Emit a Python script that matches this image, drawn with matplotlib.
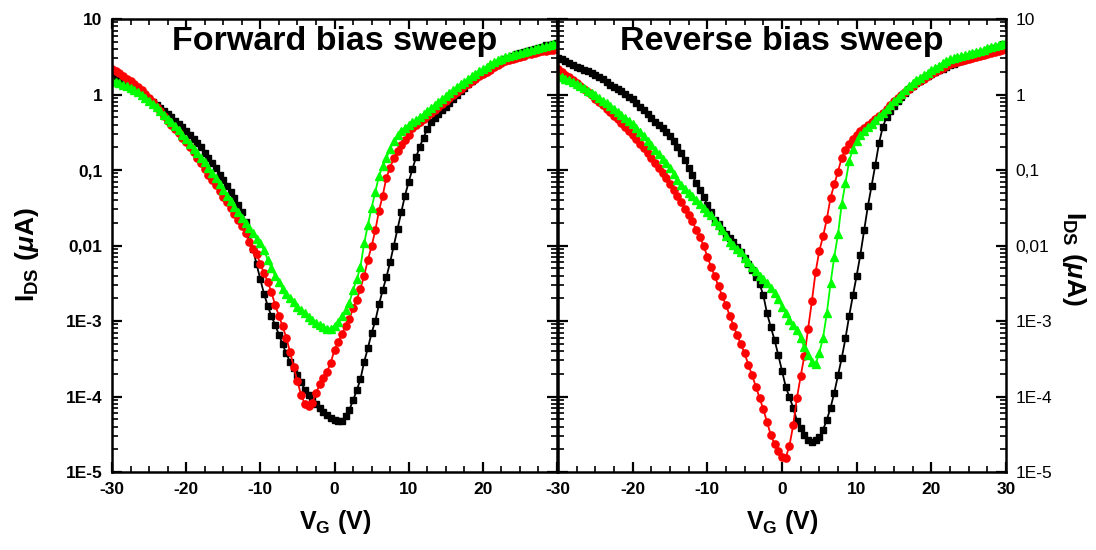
import numpy as np
import matplotlib
matplotlib.use('Agg')
import matplotlib.pyplot as plt
from matplotlib import font_manager
from matplotlib.ticker import FixedLocator, FixedFormatter, MultipleLocator, LogLocator, NullFormatter

# gate voltage sweep, -30 V .. 30 V in 0.5 V steps
vg = np.linspace(-30, 30, 121)

# log10(I_DS / uA), one value per 0.5 V
fwd_black = [
    0.27, 0.245, 0.22, 0.19, 0.16, 0.125, 0.09, 0.05, 0.015, -0.02,
    -0.055, -0.095, -0.135, -0.175, -0.22, -0.26, -0.30, -0.345, -0.39, -0.435,
    -0.48, -0.53, -0.585, -0.64, -0.70, -0.77, -0.84, -0.91, -0.98, -1.06,
    -1.13, -1.21, -1.285, -1.37, -1.46, -1.56, -1.69, -1.85, -2.05, -2.25,
    -2.45, -2.64, -2.80, -2.94, -3.05, -3.18, -3.31, -3.43, -3.54, -3.62,
    -3.71, -3.81, -3.91, -3.98, -4.04, -4.10, -4.15, -4.20, -4.24, -4.28,
    -4.31,
    -4.33, -4.32, -4.26, -4.18, -4.05, -3.92, -3.77, -3.54, -3.36,
    -3.16, -3.00, -2.78, -2.59, -2.42, -2.22, -2.00, -1.78, -1.56, -1.34,
    -1.16, -0.99, -0.83, -0.69, -0.57, -0.46, -0.37, -0.31, -0.26, -0.21,
    -0.16, -0.11, -0.06, -0.01, 0.04, 0.09, 0.135, 0.175, 0.215, 0.255,
    0.29, 0.325, 0.36, 0.39, 0.42, 0.445, 0.47, 0.49, 0.51, 0.53,
    0.545, 0.56, 0.575, 0.59, 0.605, 0.62, 0.635, 0.65, 0.66, 0.67,
    0.68]
fwd_red = [
    0.34, 0.31, 0.28, 0.245, 0.21, 0.175, 0.14, 0.10, 0.055, 0.01,
    -0.04, -0.10, -0.16, -0.22, -0.29, -0.345, -0.40, -0.455, -0.51, -0.57,
    -0.635, -0.70, -0.765, -0.835, -0.91, -0.99, -1.06, -1.13, -1.205, -1.28,
    -1.355, -1.43, -1.505, -1.58, -1.66, -1.74, -1.84, -1.95, -2.04, -2.11,
    -2.24, -2.37, -2.48, -2.62, -2.79, -2.93, -3.07, -3.22, -3.41, -3.61,
    -3.80, -3.98, -4.10, -4.13, -4.08, -3.96, -3.84, -3.75, -3.67, -3.55,
    -3.38,
    -3.28, -3.17, -3.07, -2.98, -2.83, -2.72, -2.57, -2.40, -2.19,
    -2.01, -1.80, -1.54, -1.34, -1.10, -0.97, -0.84, -0.75, -0.67, -0.60,
    -0.53, -0.45, -0.40, -0.36, -0.32, -0.28, -0.25, -0.21, -0.17, -0.13,
    -0.09, -0.05, -0.01, 0.03, 0.07, 0.11, 0.145, 0.18, 0.21, 0.24,
    0.27, 0.30, 0.33, 0.36, 0.39, 0.415, 0.44, 0.46, 0.475, 0.49,
    0.50, 0.515, 0.53, 0.54, 0.55, 0.56, 0.57, 0.58, 0.585, 0.59,
    0.60]
fwd_green = [
    0.18, 0.165, 0.15, 0.13, 0.11, 0.085, 0.06, 0.03, -0.005, -0.04,
    -0.08, -0.12, -0.17, -0.22, -0.27, -0.32, -0.37, -0.42, -0.47, -0.53,
    -0.59, -0.655, -0.72, -0.78, -0.84, -0.90, -0.97, -1.04, -1.11, -1.19,
    -1.26, -1.34, -1.415, -1.49, -1.56, -1.63, -1.70, -1.77, -1.84, -1.91,
    -1.97, -2.06, -2.19, -2.30, -2.40, -2.49, -2.57, -2.64, -2.70, -2.75,
    -2.81, -2.86, -2.90, -2.95, -2.99, -3.02, -3.05, -3.08, -3.10, -3.10,
    -3.06,
    -3.01, -2.94, -2.86, -2.76, -2.59, -2.45, -2.28, -1.97, -1.73,
    -1.50, -1.29, -1.08, -0.95, -0.84, -0.72, -0.62, -0.54, -0.48, -0.44,
    -0.40, -0.37, -0.34, -0.30, -0.26, -0.22, -0.18, -0.14, -0.10, -0.06,
    -0.02, 0.02, 0.06, 0.10, 0.135, 0.17, 0.205, 0.24, 0.275, 0.31,
    0.34, 0.37, 0.40, 0.43, 0.455, 0.475, 0.495, 0.51, 0.525, 0.54,
    0.55, 0.565, 0.575, 0.59, 0.60, 0.61, 0.625, 0.64, 0.655, 0.665,
    0.68]

rev_black = [
    0.49, 0.465, 0.44, 0.415, 0.39, 0.365, 0.345, 0.325, 0.305, 0.285,
    0.26, 0.23, 0.20, 0.165, 0.13, 0.10, 0.07, 0.04, 0.01, -0.03,
    -0.065, -0.11, -0.16, -0.21, -0.26, -0.31, -0.36, -0.405, -0.45, -0.50,
    -0.555, -0.62, -0.69, -0.77, -0.87, -0.97, -1.07, -1.17, -1.26, -1.36,
    -1.46, -1.56, -1.66, -1.72, -1.79, -1.85, -1.90, -1.95, -2.02, -2.09,
    -2.17, -2.24, -2.32, -2.42, -2.51, -2.66, -2.90, -3.08, -3.25, -3.45,
    -3.66,
    -3.87, -4.01, -4.15, -4.32, -4.42, -4.51, -4.57, -4.60, -4.58,
    -4.54, -4.44, -4.31, -4.15, -3.95, -3.72, -3.49, -3.23, -2.93, -2.66,
    -2.40, -2.12, -1.80, -1.48, -1.21, -0.93, -0.64, -0.43, -0.30, -0.22,
    -0.15, -0.09, -0.03, 0.02, 0.07, 0.11, 0.15, 0.185, 0.215, 0.245,
    0.27, 0.295, 0.32, 0.34, 0.36, 0.385, 0.41, 0.43, 0.45, 0.47,
    0.49, 0.51, 0.53, 0.55, 0.565, 0.58, 0.60, 0.615, 0.635, 0.65,
    0.67]
rev_red = [
    0.34, 0.30, 0.26, 0.23, 0.19, 0.15, 0.11, 0.07, 0.03, -0.01,
    -0.055, -0.10, -0.145, -0.19, -0.235, -0.28, -0.33, -0.38, -0.43, -0.48,
    -0.53, -0.59, -0.65, -0.71, -0.775, -0.84, -0.905, -0.97, -1.04, -1.11,
    -1.18, -1.26, -1.34, -1.43, -1.51, -1.59, -1.68, -1.79, -1.89, -2.00,
    -2.15, -2.28, -2.41, -2.54, -2.67, -2.79, -2.93, -3.06, -3.19, -3.31,
    -3.43, -3.58, -3.72, -3.87, -4.02, -4.17, -4.34, -4.51, -4.63, -4.72,
    -4.80,
    -4.81, -4.65, -4.38, -4.02, -3.73, -3.46, -3.10, -2.74, -2.35,
    -2.07, -1.88, -1.65, -1.37, -1.19, -1.02, -0.84, -0.73, -0.66, -0.59,
    -0.54, -0.49, -0.45, -0.41, -0.37, -0.33, -0.29, -0.24, -0.19, -0.14,
    -0.09, -0.045, -0.005, 0.035, 0.075, 0.115, 0.15, 0.18, 0.21, 0.24,
    0.27, 0.30, 0.33, 0.355, 0.38, 0.40, 0.415, 0.43, 0.445, 0.46,
    0.475, 0.49, 0.50, 0.51, 0.52, 0.53, 0.545, 0.56, 0.575, 0.59,
    0.60]
rev_green = [
    0.25, 0.23, 0.21, 0.19, 0.17, 0.14, 0.11, 0.08, 0.05, 0.02,
    -0.005, -0.04, -0.08, -0.115, -0.15, -0.19, -0.23, -0.27, -0.31, -0.35,
    -0.39, -0.44, -0.50, -0.555, -0.61, -0.67, -0.73, -0.79, -0.85, -0.91,
    -0.98, -1.05, -1.13, -1.20, -1.25, -1.30, -1.35, -1.40, -1.45, -1.50,
    -1.55, -1.60, -1.67, -1.73, -1.79, -1.87, -1.95, -1.99, -2.04, -2.09,
    -2.16, -2.22, -2.28, -2.34, -2.40, -2.45, -2.50, -2.56, -2.63, -2.71,
    -2.81,
    -2.90, -2.99, -3.05, -3.12, -3.23, -3.35, -3.45, -3.54, -3.57,
    -3.42, -3.22, -2.90, -2.50, -2.15, -1.85, -1.45, -1.17, -0.88, -0.72,
    -0.62, -0.54, -0.48, -0.43, -0.39, -0.34, -0.29, -0.24, -0.19, -0.14,
    -0.09, -0.04, 0.01, 0.06, 0.11, 0.155, 0.19, 0.225, 0.26, 0.29,
    0.32, 0.35, 0.38, 0.42, 0.445, 0.465, 0.48, 0.495, 0.51, 0.525,
    0.54, 0.55, 0.565, 0.58, 0.595, 0.61, 0.625, 0.64, 0.655, 0.67,
    0.69]

titles = ['Forward bias sweep', 'Reverse bias sweep']
ytick_vals = [1e-5, 1e-4, 1e-3, 1e-2, 1e-1, 1, 10]
ytick_text = ['1E-5', '1E-4', '1E-3', '0,01', '0,1', '1', '10']
xtick_vals = [-30, -20, -10, 0, 10, 20, 30]


def pick_font(names):
    have = set(f.name for f in font_manager.fontManager.ttflist)
    for n in names:
        if n in have:
            return n
    return 'DejaVu Sans'

FONT = pick_font(['Liberation Sans Narrow', 'Liberation Sans', 'Arial'])
FONT2 = pick_font(['Liberation Sans', 'Arial'])
plt.rcParams['font.family'] = [FONT, 'DejaVu Sans']
plt.rcParams['mathtext.fontset'] = 'custom'
plt.rcParams['mathtext.rm'] = FONT2
plt.rcParams['mathtext.bf'] = FONT2 + ':bold'
plt.rcParams['mathtext.it'] = FONT2 + ':italic:bold'

fig = plt.figure(figsize=(10.96, 5.5), dpi=100)
ax1 = fig.add_axes([112/1096, 1-472/550, 445/1096, 453/550])
ax2 = fig.add_axes([558/1096, 1-472/550, 448/1096, 453/550])

curves = [(fwd_black, fwd_red, fwd_green), (rev_black, rev_red, rev_green)]
for ax, (cb, cr, cg), title in zip([ax1, ax2], curves, titles):
    ax.plot(vg, 10**np.array(cb), color='black', marker='s', ms=4.4, lw=1.3)
    ax.plot(vg, 10**np.array(cr), color='#ff0000', marker='o', ms=5.2, lw=1.3)
    ax.plot(vg, 10**np.array(cg), color='#00ff00', marker='^', ms=5.4, lw=1.3)
    ax.set_yscale('log')
    ax.set_xlim(-30, 30)
    ax.set_ylim(1e-5, 10)
    ax.yaxis.set_major_locator(FixedLocator(ytick_vals))
    ax.yaxis.set_minor_locator(LogLocator(base=10, subs=np.arange(2, 10)))
    ax.yaxis.set_minor_formatter(NullFormatter())
    ax.xaxis.set_major_locator(FixedLocator(xtick_vals))
    ax.xaxis.set_minor_locator(MultipleLocator(2.5))
    ax.tick_params(which='both', direction='in', top=True, right=True, left=True, bottom=True)
    ax.tick_params(which='major', length=7, width=1.6)
    ax.tick_params(which='minor', length=4, width=1.2)
    ax.tick_params(axis='x', which='major', pad=7)
    ax.tick_params(axis='y', which='major', pad=7)
    for s in ax.spines.values():
        s.set_linewidth(1.8)
    ax.text(0.5, 0.95, title, transform=ax.transAxes, ha='center', va='center',
            fontsize=24.5, fontweight='bold', family=[FONT, 'DejaVu Sans'])

ax1.xaxis.set_major_formatter(FixedFormatter(['-30', '-20', '-10', '0', '10', '20', '']))
ax2.xaxis.set_major_formatter(FixedFormatter(['-30', '-20', '-10', '0', '10', '20', '30']))
ax1.yaxis.set_major_formatter(FixedFormatter(ytick_text))
ax2.yaxis.set_major_formatter(FixedFormatter(ytick_text))
ax2.tick_params(axis='y', which='both', labelleft=False, labelright=True)

for ax in [ax1, ax2]:
    for lab in ax.get_xticklabels():
        lab.set_fontsize(12.5)
        lab.set_fontweight('bold')
for lab in ax1.get_yticklabels():
    lab.set_fontsize(12.5)
    lab.set_fontweight('bold')
for lab in ax2.get_yticklabels():
    lab.set_fontsize(12.5)
    lab.set_fontweight('normal')

ylab = r'$\mathbf{I_{DS}\ (}\mathit{\mu}\mathbf{A)}$'
fig.text(27/1096, 1-255/550, ylab, rotation=90, ha='center', va='center', fontsize=19)
fig.text(1074/1096, 1-258/550, ylab, rotation=-90, ha='center', va='center', fontsize=19)
xlab = r'$\mathbf{V_{G}\ (V)}$'
fig.text(335/1096, 1-522/550, xlab, ha='center', va='center', fontsize=18)
fig.text(782/1096, 1-522/550, xlab, ha='center', va='center', fontsize=18)

fig.savefig('out.png', dpi=100)
